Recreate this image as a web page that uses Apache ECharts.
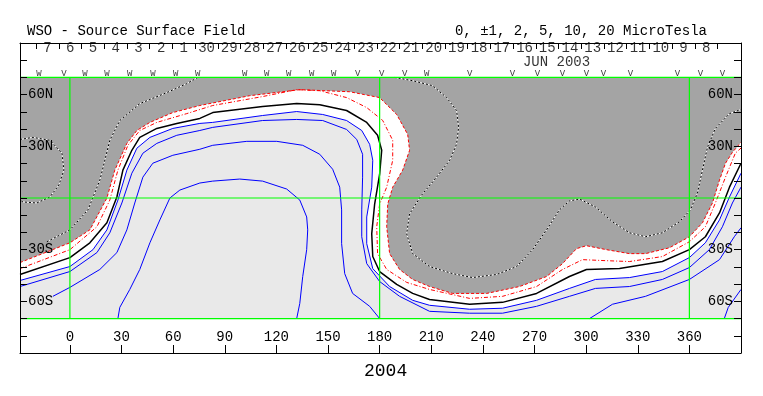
<!DOCTYPE html>
<html>
<head>
<meta charset="utf-8">
<script src="https://cdn.jsdelivr.net/npm/echarts@6/dist/echarts.min.js"></script>
<style>
  html, body { margin: 0; padding: 0; background: #fff; }
  #map { width: 763px; height: 396px; }
</style>
</head>
<body>
<div id="map"></div>
<script>
// carrington longitude / latitude
const lonTicks = [0, 30, 60, 90, 120, 150, 180, 210, 240, 270, 300, 330, 360];
const latTicks = [60, 30, -30, -60];
const latTickLabels = ['60N', '30N', '30S', '60S'];

// day ticks on top strip (june/july 2003)
const dayTickLon = [-19.6, -6.4, 6.8, 20.0, 33.2, 46.4, 59.6, 72.8, 86.0, 99.2, 112.4, 125.6, 138.8, 152.0, 165.2,
  178.4, 191.6, 204.8, 218.0, 231.2, 244.4, 257.6, 270.8, 284.0, 297.2, 310.4, 323.6, 336.8, 350.0, 363.2, 376.4];
const dayLabels = ['7', '6', '5', '4', '3', '2', '1', '30', '29', '28', '27', '26', '25', '24', '23', '22', '21',
  '20', '19', '18', '17', '16', '15', '14', '13', '12', '11', '10', '9', '8'];

// observation marks
const obsLon = [-18, -3.5, 8.7, 21.5, 34.8, 48.2, 61.5, 74.3, 101.6, 114.4, 127.2, 140.5, 153.3, 167.2, 181.2,
  194.5, 207.3, 232.3, 257.2, 271.7, 286.3, 300.2, 310, 325.7, 353, 366.4, 379.2];
const obsMark = ['W', 'V', 'W', 'W', 'W', 'W', 'W', 'W', 'W', 'W', 'W', 'W', 'W', 'V', 'V', 'V', 'W', 'V', 'V', 'V',
  'V', 'V', 'V', 'V', 'V', 'V', 'V'];

// contours [lon, lat]
const negOuter = [[-29,-37.5],[0,-26],[11.6,-18.5],[21.5,0],[26.1,16.2],[33.1,31.7],[38.9,39.2],[46.5,43.9],
  [59.8,49.6],[75.5,53.7],[104.5,59.4],[133.6,62.9],[162.6,61.7],[180,58.3],[189.9,48.5],[196.3,36.9],
  [197.4,27.7],[193.4,16.2],[187.6,6.3],[184.7,-3.5],[184.1,-16.7],[185.8,-32.3],[191.6,-41.5],[199.2,-47.3],
  [209,-51.4],[222.4,-55.4],[242.2,-55.4],[261.3,-51.4],[277,-45.6],[286.3,-38.1],[294.4,-29.4],[300.2,-27.7],
  [311.8,-30],[325.2,-32.3],[334.5,-32.3],[348.4,-28.9],[360,-22.5],[367.6,-14.4],[373.4,-2.9],[377.5,10.4],
  [381,20.2],[385,26.5],[390,32.3]];
const negInner = [[-29,-41],[0,-30],[15.7,-16.7],[23.2,-1.2],[27.9,16.2],[33.7,30.6],[40.6,39.2],[50.5,43.9],
  [67.9,49],[83,53.7],[112,58.9],[131.8,62.9],[145.2,62.3],[160.8,58.3],[172.5,52.5],[181.8,45],[187.6,33.5],
  [187.6,21.9],[184.1,6.3],[180,-3.5],[178.3,-16.7],[178.8,-32.3],[184.1,-41.5],[195.7,-49],[209,-53.1],
  [232.3,-58.3],[251.4,-57.1],[271.2,-51.4],[286.3,-41.5],[297.9,-35.8],[311.8,-36.4],[325.2,-36.9],
  [344.3,-34],[360,-25.4],[369.3,-16.7],[375.1,-2.9],[381,12.1],[386.7,26],[390,29]];
const neutral = [[-29,-44.4],[0,-34.6],[11.6,-26],[21.5,-14.4],[27.3,0.6],[30.8,16.2],[36,27.7],[40.6,35.2],
  [50.5,40.4],[62.1,43.3],[75.5,46.2],[83,49.6],[112,53.1],[131.8,54.8],[145.2,54.2],[160.8,50.8],[172.5,43.9],
  [178.8,36.4],[181.2,27.7],[180,13.8],[177.1,-3.5],[175.4,-20.8],[176,-34],[180,-42.7],[189.9,-50.2],
  [199.2,-55.4],[209,-58.9],[232.3,-61.7],[251.4,-60.6],[271.2,-55.4],[290.3,-45.6],[300.2,-41.5],[319.4,-41],
  [344.3,-36.9],[360,-30],[369.3,-22.5],[377.5,-8.7],[383.3,6.3],[390,20.2]];
const pos1 = [[-29,-47.9],[0,-39.8],[13.4,-30],[21.5,-18.5],[27.9,-1.2],[33.1,16.2],[38.9,28.9],[46.5,35.2],
  [59.8,40.4],[75.5,43.3],[83,43.9],[112,47.9],[131.8,50.2],[146.9,48.5],[160.8,45],[169.6,39.2],[174.2,31.2],
  [176,21.9],[175.4,6.3],[172.5,-11],[172.5,-26.5],[176,-41],[185.8,-51.4],[199.2,-59.4],[209,-62.3],
  [232.3,-64.6],[251.4,-64],[271.2,-59.4],[290.3,-52.5],[305.4,-47.3],[325.2,-46.2],[344.3,-42.7],[360,-34.6],
  [369.3,-26],[377.5,-12.7],[383.3,0.6],[390,14.4]];
const pos2 = [[-29,-51.4],[0,-42.7],[15.7,-31.7],[23.2,-20.2],[30.2,-2.9],[36,14.4],[42.4,26],[50.5,31.7],
  [62.1,36.4],[75.5,39.2],[83,41],[112,45],[131.8,45.6],[146.9,45],[160.8,39.8],[166.7,34],[170.1,25.4],
  [170.1,12.1],[169.6,-6.9],[169.6,-22.5],[172.5,-38.1],[180,-48.5],[191.6,-57.1],[209,-65.8],[232.3,-66.9],
  [251.4,-66.9],[271.2,-62.9],[290.3,-57.1],[305.4,-52.5],[325.2,-51.4],[344.3,-47.3],[360,-40.4],[371.6,-30],
  [379.2,-16.7],[385,-2.9],[390,6.3]];
const pos5a = [[-9.9,-57.1],[0,-51.9],[17.4,-41.5],[27.3,-31.7],[33.1,-18.5],[37.7,-2.9],[42.4,12.1],[48.2,20.2],
  [59.8,24.8],[75.5,28.3],[83,30.6],[102.8,32.9],[120.2,32.9],[135.3,30.6],[145.2,25.4],[152.7,16.7],
  [156.8,6.3],[157.9,-6.9],[157.9,-26.5],[159.7,-43.9],[164.3,-55.4],[174.2,-62.9],[180,-70]];
const pos5b = [[302,-70],[315.3,-61.7],[334.5,-57.1],[360,-47.3],[377.5,-35.8],[386.1,-22.5],[390,-17.3]];
const pos10a = [[27.9,-70],[29,-63.5],[34.8,-53.1],[40.6,-41.5],[46.5,-26],[52.3,-12.7],[58.1,0],[63.9,4.6],
  [75.5,8.7],[83,9.8],[98.7,11],[112,9.8],[126,5.2],[133.6,-1.2],[137.6,-11],[138.2,-18.5],[137.6,-30],
  [135.3,-45.6],[133.6,-61.2],[131.8,-70]];
const pos10b = [[380.3,-70],[382.6,-63.5],[390,-53.1]];
const neg5a = [[-29,34],[-21.5,35.2],[-11.6,33.5],[-4.6,26],[-3.5,16.2],[-6.4,7.5],[-11.6,0.6],[-19.2,-2.9],
  [-27.3,-2.3],[-29,-1.2]];
const neg5b = [[-13.4,-25.4],[0,-18.5],[10.5,-6.9],[17.4,10.4],[23.2,33.5],[29,45],[40.6,54.8],[56.3,61.2],
  [67.9,66.4],[74.3,70]];
const neg5c = [[188.7,70],[199.2,68.1],[210.8,65.2],[218.9,58.3],[224.7,50.8],[225.9,41],[224.7,31.2],
  [220.7,21.9],[213.1,12.1],[204.4,1.7],[197.4,-9.2],[195.7,-20.8],[199.2,-32.3],[209,-39.8],[222.4,-43.9],
  [234,-46.2],[248,-44.4],[259.6,-39.8],[268.9,-30],[277,-18.5],[284.5,-6.9],[290.3,-1.7],[296.2,-0.6],
  [305.4,-5.2],[315.3,-13.8],[325.2,-20.2],[334.5,-22.5],[344.3,-20.2],[354.2,-13.8],[360.6,-6.9],
  [364.7,2.9],[367.6,16.2],[370.5,29.4],[375.1,40.4],[383.3,49],[390,51.4]];

const greenLon = [0, 180, 360];
const greenLat = [-70, 0, 70];

const LON0 = -29, LON1 = 390, FONT = 'Liberation Mono';

function fill(ring, color) {
  return {
    type: 'custom', silent: true, clip: true, z: 1,
    data: [ring[0]],
    renderItem: (params, api) => ({
      type: 'polygon',
      shape: { points: ring.map(p => api.coord(p)) },
      style: { fill: color }
    })
  };
}
function contour(data, color, type, width) {
  return {
    type: 'line', data: data, symbol: 'none', silent: true, z: 3, clip: true,
    lineStyle: { color: color, width: width || 1, type: type || 'solid' }
  };
}

let chart = echarts.init(document.getElementById('map'));
let series = [
  fill([[LON0, -70], [LON1, -70], [LON1, 70], [LON0, 70]], '#e9e9e9'),
  fill(pos1.concat([[LON1, 70], [LON0, 70]]), '#ffffff'),
  fill(negOuter.concat([[LON1, 70], [LON0, 70]]), '#a4a4a4'),
];
[neg5a, neg5b, neg5c].forEach(d => {
  series.push(contour(d, '#ffffff', 'solid', 1));
  series.push(contour(d, '#000000', [2, 2], 1));
});
series.push(contour(negOuter, '#ff0000', [3, 2], 1));
series.push(contour(negInner, '#ff0000', [4, 2, 1, 2], 1));
series.push(contour(neutral, '#000000', 'solid', 1.5));
[pos1, pos2, pos5a, pos5b, pos10a, pos10b].forEach(d => series.push(contour(d, '#0000ff', 'solid', 1)));
greenLon.forEach(l => series.push(contour([[l, -70], [l, 70]], '#00ff00', 'solid', 1.2)));
greenLat.forEach(l => series.push(contour([[LON0, l], [LON1, l]], '#00ff00', 'solid', 1.2)));

function textPoints(points, size) {
  return {
    type: 'scatter', symbolSize: 0, silent: true, z: 6, data: points,
    label: { show: true, position: 'inside', formatter: '{b}', color: '#000', fontFamily: FONT, fontSize: size }
  };
}
series.push(textPoints(dayLabels.map((d, i) => ({ name: d, value: [(dayTickLon[i] + dayTickLon[i + 1]) / 2, 87] })), 14));
series.push(textPoints([{ name: 'JUN 2003', value: [282.8, 78.6] }], 14));
series.push(textPoints(obsMark.map((m, i) => ({ name: m, value: [obsLon[i], 72.4] })), 9));

const axisBlack = { onZero: false, show: true, lineStyle: { color: '#000' } };

let option = {
  animation: false,
  backgroundColor: '#fff',
  title: [
    { text: 'WSO - Source Surface Field', left: 22, top: 19,
      textStyle: { fontFamily: FONT, fontSize: 14, fontWeight: 'normal', color: '#000' } },
    { text: '0, ±1, 2, 5, 10, 20 MicroTesla', right: 51, top: 19,
      textStyle: { fontFamily: FONT, fontSize: 14, fontWeight: 'normal', color: '#000' } },
    { text: '2004', left: 359, top: 357,
      textStyle: { fontFamily: FONT, fontSize: 18, fontWeight: 'normal', color: '#000' } }
  ],
  grid: { left: 20, right: 22, top: 43, bottom: 43 },
  xAxis: [{
    type: 'value', min: LON0, max: LON1, position: 'bottom', z: 5,
    splitLine: { show: false },
    axisLine: axisBlack,
    axisTick: { inside: true, length: 8, customValues: lonTicks, lineStyle: { color: '#000' } },
    axisLabel: { inside: true, margin: 9, customValues: lonTicks, color: '#000', fontFamily: FONT, fontSize: 14 }
  }, {
    type: 'value', min: LON0, max: LON1, position: 'top', z: 5,
    splitLine: { show: false },
    axisLine: axisBlack,
    axisTick: { inside: true, length: 6, customValues: dayTickLon, lineStyle: { color: '#000' } },
    axisLabel: { show: false }
  }],
  yAxis: [{
    type: 'value', min: -90, max: 90, interval: 10, position: 'left', z: 5,
    splitLine: { show: false },
    axisLine: axisBlack,
    axisTick: { show: true, inside: true, length: 7, lineStyle: { color: '#000' } },
    axisLabel: { inside: true, margin: 8, customValues: latTicks, color: '#000', fontFamily: FONT, fontSize: 14,
      formatter: v => latTickLabels[latTicks.indexOf(v)] }
  }, {
    type: 'value', min: -90, max: 90, interval: 10, position: 'right', z: 5,
    splitLine: { show: false },
    axisLine: axisBlack,
    axisTick: { show: true, inside: true, length: 7, lineStyle: { color: '#000' } },
    axisLabel: { inside: true, margin: 8, customValues: latTicks, color: '#000', fontFamily: FONT, fontSize: 14,
      formatter: v => latTickLabels[latTicks.indexOf(v)] }
  }],
  series: series
};
chart.setOption(option);
</script>
</body>
</html>
